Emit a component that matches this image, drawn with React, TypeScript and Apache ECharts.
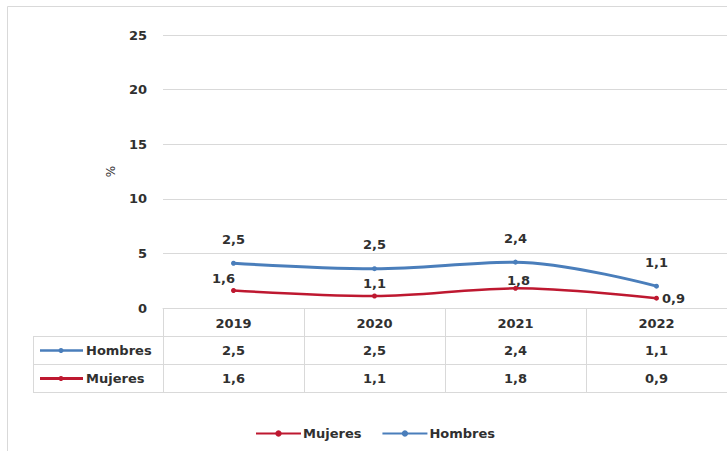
import React, { useEffect, useRef } from "react";
import * as echarts from "echarts";

const years = ["2019", "2020", "2021", "2022"];
const hombres = [2.5, 2.5, 2.4, 1.1];
const mujeres = [1.6, 1.1, 1.8, 0.9];
const yMax = 25;
const yInterval = 5;

const BLUE = "#4A7EBB";
const RED = "#BE1830";
const GRID = "#d9d9d9";
const TEXT = "#303030";
const FONT = "DejaVu Sans";

const fmt = (v: number) => v.toFixed(1).replace(".", ",");

export default function App() {
  const ref = useRef<HTMLDivElement>(null);
  useEffect(() => {
    const chart = echarts.init(ref.current!, undefined, { renderer: "svg" });
    const mujeresLabel: any[] = [
      { position: "top", offset: [-10, 0] },
      { position: "top" },
      { position: "top", offset: [3, 4] },
      { position: "right" },
    ];
    const rowTop = 336;
    const rowH = 28;
    const tableLeft = 33;
    const option: any = {
      animation: false,
      textStyle: { fontFamily: FONT },
      grid: { left: 163, right: -6, top: 35, bottom: 143 },
      legend: {
        top: 422,
        left: 250,
        itemWidth: 45,
        itemHeight: 8,
        itemGap: 20,
        data: ["Mujeres", "Hombres"],
        textStyle: { fontFamily: FONT, fontWeight: "bold", fontSize: 13, color: TEXT, padding: [0, 0, 0, -3] },
      },
      xAxis: {
        type: "category",
        data: years,
        boundaryGap: true,
        axisLine: { lineStyle: { color: GRID, width: 1 } },
        axisTick: { show: true, length: 2 * rowH + (rowTop - 308), lineStyle: { color: GRID } },
        axisLabel: { margin: 9, fontFamily: FONT, fontWeight: "bold", fontSize: 13, color: TEXT },
      },
      yAxis: {
        type: "value",
        min: 0,
        max: yMax,
        interval: yInterval,
        name: "%",
        nameLocation: "middle",
        nameGap: 46,
        nameRotate: 90,
        nameTextStyle: { fontFamily: FONT, fontSize: 12, color: TEXT },
        axisLine: { show: false },
        axisTick: { show: false },
        axisLabel: { margin: 16, fontFamily: FONT, fontWeight: "bold", fontSize: 13, color: TEXT },
        splitLine: { lineStyle: { color: GRID, width: 1 } },
      },
      series: [
        {
          name: "Mujeres",
          type: "line",
          stack: "total",
          smooth: 0.35,
          data: mujeres.map((v, i) => ({ value: v, label: mujeresLabel[i] })),
          color: RED,
          lineStyle: { width: 2.5, color: RED },
          symbol: "circle",
          symbolSize: 5,
          itemStyle: { color: RED },
          label: {
            show: true,
            distance: 3,
            formatter: (p: any) => fmt(p.value),
            fontFamily: FONT,
            fontWeight: "bold",
            fontSize: 13,
            color: TEXT,
          },
        },
        {
          name: "Hombres",
          type: "line",
          stack: "total",
          smooth: 0.35,
          data: hombres,
          color: BLUE,
          lineStyle: { width: 3, color: BLUE },
          symbol: "circle",
          symbolSize: 5,
          itemStyle: { color: BLUE },
          label: {
            show: true,
            position: "top",
            distance: 15,
            formatter: (p: any) => fmt(p.value),
            fontFamily: FONT,
            fontWeight: "bold",
            fontSize: 13,
            color: TEXT,
          },
        },
      ],
    };
    chart.setOption(option);

    const g: any[] = [];
    g.push({
      type: "rect",
      silent: true,
      z: -10,
      shape: { x: 7.5, y: 6.5, width: 800, height: 500 },
      style: { fill: "none", stroke: GRID, lineWidth: 1 },
    });
    for (let k = 0; k < 3; k++) {
      const y = rowTop + k * rowH + 0.5;
      g.push({
        type: "line",
        silent: true,
        shape: { x1: tableLeft, y1: y, x2: 760, y2: y },
        style: { stroke: GRID, lineWidth: 1 },
      });
    }
    g.push({
      type: "line",
      silent: true,
      shape: { x1: tableLeft + 0.5, y1: rowTop, x2: tableLeft + 0.5, y2: rowTop + 2 * rowH },
      style: { stroke: GRID, lineWidth: 1 },
    });
    const rows = [
      { name: "Hombres", values: hombres, color: BLUE, w: 2.5 },
      { name: "Mujeres", values: mujeres, color: RED, w: 3 },
    ];
    rows.forEach((r, ri) => {
      const cy = rowTop + ri * rowH + rowH / 2 + 0.5;
      g.push({
        type: "line",
        silent: true,
        shape: { x1: 40, y1: cy, x2: 83, y2: cy },
        style: { stroke: r.color, lineWidth: r.w },
      });
      g.push({
        type: "circle",
        silent: true,
        shape: { cx: 61, cy, r: 2.5 },
        style: { fill: r.color },
      });
      g.push({
        type: "text",
        silent: true,
        x: 86,
        y: cy,
        style: {
          text: r.name,
          fill: TEXT,
          font: `bold 13px "${FONT}"`,
          textAlign: "left",
          textVerticalAlign: "middle",
          align: "left",
          verticalAlign: "middle",
        },
      });
      years.forEach((yr, i) => {
        const x = chart.convertToPixel({ xAxisIndex: 0 }, yr) as number;
        g.push({
          type: "text",
          silent: true,
          x,
          y: cy,
          style: {
            text: fmt(r.values[i]),
            fill: TEXT,
            font: `bold 13px "${FONT}"`,
            textAlign: "center",
            textVerticalAlign: "middle",
            align: "center",
            verticalAlign: "middle",
          },
        });
      });
    });
    chart.setOption({ graphic: g });

    return () => chart.dispose();
  }, []);
  return (
    <div
      ref={ref}
      style={{ position: "absolute", left: 0, top: 0, width: 727, height: 451, background: "#fff" }}
    />
  );
}
